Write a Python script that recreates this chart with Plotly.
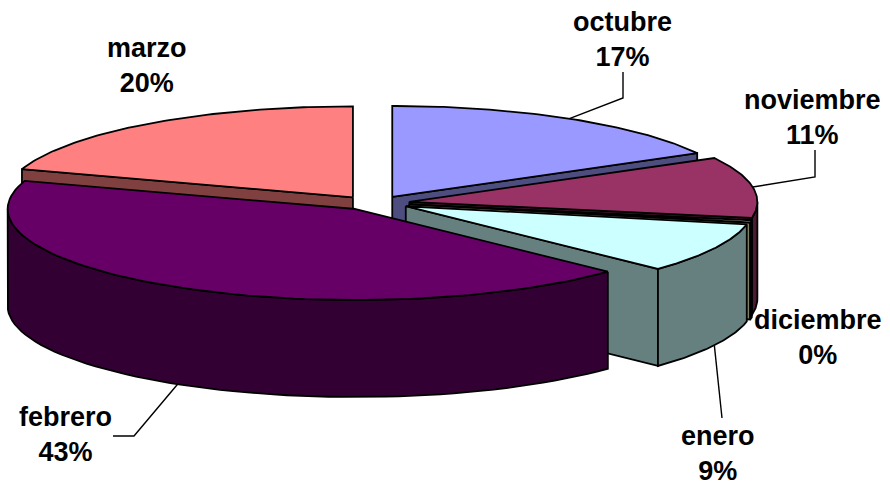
import numpy as np
import plotly.graph_objects as go

categories = ["octubre", "noviembre", "diciembre", "enero", "febrero", "marzo"]
values = [17.0, 10.8, 0.4, 8.9, 42.9, 20.0]
top_colors = ["#9999FF", "#993366", "#FFFFCC", "#CCFFFF", "#660066", "#FF8080"]
side_colors = ["#4D4D80", "#4D1A33", "#808066", "#668080", "#330033", "#804040"]

CX, CY, RX, RY, DEPTH, EXPLODE_X, EXPLODE_Y = 374, 203, 348, 91, 97, 0.103, 0.077
draw_order = ["marzo", "octubre", "noviembre", "diciembre", "enero", "febrero"]

label_pos = {
    "octubre": (622, 39), "noviembre": (812, 117), "diciembre": (818, 337),
    "enero": (718, 453), "febrero": (65, 434), "marzo": (147, 65),
}
leader_tail = {
    "octubre": [(623, 98), (623, 72)],
    "noviembre": [(815, 177), (815, 150)],
    "enero": [(722, 418)],
    "febrero": [(134, 436), (113, 436)],
}

shares = np.array(values) / sum(values) * 360
ends = np.cumsum(shares)
starts = ends - shares


def pt(ax, ay, deg):
    r = np.radians(deg)
    return ax + RX * np.sin(r), ay - RY * np.cos(r)


fig = go.Figure()


def poly(xs, ys, color):
    fig.add_trace(go.Scatter(
        x=list(xs) + [xs[0]], y=list(ys) + [ys[0]], mode="lines", fill="toself",
        fillcolor=color, line=dict(color="black", width=1.8), hoverinfo="skip",
        showlegend=False))


apexes = {}
for name in draw_order:
    i = categories.index(name)
    t0, t1 = starts[i], ends[i]
    mid = np.radians((t0 + t1) / 2)
    ax = CX + EXPLODE_X * RX * np.sin(mid)
    ay = CY - EXPLODE_Y * RY * np.cos(mid)
    apexes[name] = (ax, ay, (t0 + t1) / 2)
    # radial faces
    if np.sin(np.radians(t0)) < 0:
        px, py = pt(ax, ay, t0)
        poly([ax, px, px, ax], [ay, py, py + DEPTH, ay + DEPTH], side_colors[i])
    if np.sin(np.radians(t1)) > 0:
        px, py = pt(ax, ay, t1)
        poly([ax, px, px, ax], [ay, py, py + DEPTH, ay + DEPTH], side_colors[i])
    # outer rim (front half only)
    a0, a1 = max(t0, 90), min(t1, 270)
    if a1 > a0:
        ang = np.linspace(a0, a1, 60)
        px, py = pt(ax, ay, ang)
        poly(np.r_[px, px[::-1]], np.r_[py, py[::-1] + DEPTH], side_colors[i])
    # top face
    ang = np.linspace(t0, t1, 80)
    px, py = pt(ax, ay, ang)
    poly(np.r_[ax, px], np.r_[ay, py], top_colors[i])

# leader lines start on the rim of their slice
for name, tail in leader_tail.items():
    ax, ay, m = apexes[name]
    sx, sy = pt(ax, ay, m)
    if 90 < m < 270:
        sy += DEPTH
    xs = [sx] + [p[0] for p in tail]
    ys = [sy] + [p[1] for p in tail]
    fig.add_trace(go.Scatter(x=xs, y=ys, mode="lines", line=dict(color="black", width=1.4),
                             hoverinfo="skip", showlegend=False))

for name, val in zip(categories, values):
    x, y = label_pos[name]
    fig.add_annotation(x=x, y=y, text=f"{name}<br>{round(val):d}%", showarrow=False,
                       xanchor="center", yanchor="middle",
                       font=dict(family="Liberation Sans", size=27, color="black", weight="bold"))

fig.update_layout(
    width=890, height=485, margin=dict(l=0, r=0, t=0, b=0),
    paper_bgcolor="white", plot_bgcolor="white", showlegend=False,
    xaxis=dict(range=[0, 890], visible=False, fixedrange=True),
    yaxis=dict(range=[485, 0], visible=False, fixedrange=True),
)
fig.write_html("out.html", config={"displayModeBar": False},
               post_script="document.body.style.margin='0';document.body.style.overflow='hidden';")
